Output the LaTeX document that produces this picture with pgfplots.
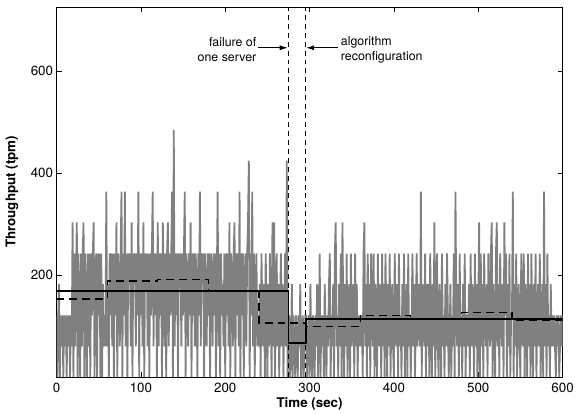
\documentclass[border=0pt]{standalone}
\usepackage{fontspec}
\setmainfont{TeX Gyre Heros}
\usepackage{pgfplots}
\pgfplotsset{compat=1.18}
\usetikzlibrary{arrows.meta}
\definecolor{noisegray}{RGB}{128,128,128}
\begin{document}
\begin{tikzpicture}
\begin{axis}[name=ax, scale only axis, width=510bp, height=373bp,
 xmin=0, xmax=600, ymin=0, ymax=725,
 xtick={0,100,...,600}, ytick={200,400,600},
 tick align=inside, major tick length=5bp,
 tick style={black, line width=0.5bp},
 axis line style={black, line width=0.8bp},
 /pgf/number format/assume math mode=true,
 ticklabel style={font=\fontsize{13.5}{16}\selectfont},
 xticklabel style={yshift=-2.5bp},
 label style={font=\fontsize{13.5}{16}\selectfont\bfseries},
 xlabel={Time (sec)}, ylabel={Throughput (tpm)},
 xlabel style={at={(axis description cs:0.5,-0.072)}, anchor=center},
 ylabel style={at={(axis description cs:-0.088,0.5)}, anchor=center},
]
\addplot[color=noisegray, line width=1.8bp, line join=bevel, line cap=butt, mark=none] coordinates {
(0,121)(1,0)(2,121)(3,182)(4,0)(5,121)(6,60)(7,121)(8,0)(9,121)
(10,60)(11,121)(12,0)(13,121)(14,60)(15,121)(16,0)(17,121)(18,60)(19,303)
(20,0)(21,242)(22,60)(23,182)(24,303)(25,0)(26,242)(27,121)(28,0)(29,242)
(30,60)(31,242)(32,303)(33,0)(34,242)(35,121)(36,0)(37,242)(38,60)(39,242)
(40,0)(41,242)(42,121)(43,242)(44,303)(45,0)(46,182)(47,242)(48,0)(49,242)
(50,121)(51,242)(52,0)(53,242)(54,0)(55,182)(56,60)(57,121)(58,60)(59,363)
(60,60)(61,182)(62,0)(63,242)(64,121)(65,242)(66,60)(67,242)(68,0)(69,242)
(70,121)(71,303)(72,0)(73,242)(74,182)(75,60)(76,242)(77,363)(78,0)(79,242)
(80,121)(81,363)(82,60)(83,242)(84,0)(85,242)(86,182)(87,242)(88,60)(89,303)
(90,0)(91,242)(92,182)(93,242)(94,60)(95,242)(96,121)(97,363)(98,0)(99,242)
(100,121)(101,242)(102,60)(103,303)(104,0)(105,242)(106,182)(107,242)(108,60)(109,242)
(110,0)(111,242)(112,121)(113,242)(114,363)(115,60)(116,242)(117,121)(118,242)(119,0)
(120,303)(121,60)(122,242)(123,121)(124,242)(125,0)(126,303)(127,182)(128,60)(129,242)
(130,0)(131,242)(132,303)(133,60)(134,242)(135,121)(136,242)(137,363)(138,0)(139,484)
(140,60)(141,242)(142,121)(143,242)(144,0)(145,242)(146,182)(147,242)(148,60)(149,242)
(150,121)(151,242)(152,363)(153,0)(154,242)(155,182)(156,60)(157,242)(158,121)(159,303)
(160,0)(161,242)(162,121)(163,242)(164,60)(165,242)(166,182)(167,0)(168,242)(169,121)
(170,363)(171,60)(172,242)(173,182)(174,242)(175,0)(176,242)(177,121)(178,60)(179,242)
(180,121)(181,242)(182,0)(183,242)(184,182)(185,60)(186,242)(187,121)(188,242)(189,0)
(190,182)(191,363)(192,60)(193,242)(194,0)(195,242)(196,121)(197,182)(198,60)(199,242)
(200,0)(201,242)(202,121)(203,242)(204,60)(205,303)(206,0)(207,242)(208,182)(209,60)
(210,242)(211,303)(212,0)(213,242)(214,121)(215,242)(216,60)(217,363)(218,0)(219,242)
(220,121)(221,242)(222,0)(223,182)(224,242)(225,60)(226,242)(227,303)(228,424)(229,0)
(230,242)(231,121)(232,363)(233,60)(234,242)(235,0)(236,182)(237,242)(238,60)(239,121)
(240,60)(241,182)(242,0)(243,242)(244,121)(245,60)(246,182)(247,0)(248,242)(249,121)
(250,0)(251,182)(252,60)(253,242)(254,121)(255,0)(256,303)(257,60)(258,303)(259,0)
(260,121)(261,242)(262,60)(263,182)(264,0)(265,121)(266,242)(267,60)(268,182)(269,0)
(270,121)(271,242)(272,60)(273,424)(274,0)(275,60)(276,121)(277,0)(278,60)(279,182)
(280,0)(281,121)(282,60)(283,0)(284,121)(285,60)(286,0)(287,121)(288,60)(289,182)
(290,0)(291,60)(292,121)(293,0)(294,60)(295,121)(296,121)(297,0)(298,60)(299,121)
(300,0)(301,182)(302,60)(303,0)(304,121)(305,60)(306,0)(307,121)(308,60)(309,182)
(310,0)(311,60)(312,242)(313,0)(314,121)(315,60)(316,121)(317,0)(318,182)(319,60)
(320,0)(321,121)(322,60)(323,182)(324,242)(325,0)(326,121)(327,60)(328,182)(329,0)
(330,242)(331,303)(332,60)(333,121)(334,0)(335,182)(336,60)(337,242)(338,0)(339,303)
(340,121)(341,0)(342,182)(343,60)(344,242)(345,0)(346,121)(347,182)(348,0)(349,242)
(350,60)(351,121)(352,182)(353,0)(354,242)(355,60)(356,182)(357,0)(358,121)(359,60)
(360,121)(361,60)(362,121)(363,0)(364,242)(365,303)(366,60)(367,182)(368,0)(369,242)
(370,60)(371,182)(372,0)(373,242)(374,121)(375,60)(376,242)(377,0)(378,182)(379,121)
(380,0)(381,242)(382,60)(383,182)(384,121)(385,0)(386,242)(387,60)(388,182)(389,0)
(390,242)(391,121)(392,0)(393,182)(394,60)(395,242)(396,0)(397,121)(398,182)(399,60)
(400,0)(401,242)(402,121)(403,60)(404,182)(405,0)(406,242)(407,60)(408,121)(409,0)
(410,182)(411,60)(412,242)(413,0)(414,121)(415,182)(416,0)(417,242)(418,60)(419,121)
(420,0)(421,121)(422,242)(423,60)(424,182)(425,0)(426,121)(427,242)(428,60)(429,182)
(430,121)(431,60)(432,363)(433,0)(434,182)(435,121)(436,60)(437,242)(438,0)(439,182)
(440,60)(441,182)(442,0)(443,242)(444,121)(445,0)(446,182)(447,60)(448,303)(449,0)
(450,121)(451,242)(452,60)(453,0)(454,182)(455,121)(456,0)(457,242)(458,60)(459,121)
(460,0)(461,182)(462,60)(463,242)(464,121)(465,0)(466,60)(467,182)(468,0)(469,121)
(470,60)(471,242)(472,0)(473,363)(474,121)(475,60)(476,182)(477,0)(478,242)(479,60)
(480,121)(481,0)(482,182)(483,60)(484,242)(485,0)(486,121)(487,121)(488,60)(489,182)
(490,0)(491,242)(492,60)(493,182)(494,121)(495,0)(496,242)(497,60)(498,182)(499,0)
(500,121)(501,303)(502,0)(503,242)(504,60)(505,182)(506,0)(507,242)(508,121)(509,60)
(510,182)(511,0)(512,242)(513,121)(514,60)(515,242)(516,303)(517,0)(518,182)(519,121)
(520,0)(521,242)(522,303)(523,60)(524,182)(525,0)(526,242)(527,121)(528,60)(529,182)
(530,0)(531,303)(532,121)(533,242)(534,0)(535,182)(536,60)(537,242)(538,0)(539,121)
(540,121)(541,363)(542,0)(543,182)(544,60)(545,242)(546,0)(547,121)(548,182)(549,60)
(550,0)(551,242)(552,121)(553,60)(554,242)(555,0)(556,182)(557,121)(558,0)(559,242)
(560,60)(561,182)(562,0)(563,242)(564,121)(565,0)(566,182)(567,60)(568,242)(569,0)
(570,121)(571,182)(572,60)(573,242)(574,0)(575,121)(576,182)(577,0)(578,363)(579,60)
(580,182)(581,0)(582,242)(583,60)(584,121)(585,0)(586,182)(587,60)(588,121)(589,60)
(590,121)(591,60)(592,0)(593,121)(594,60)(595,121)(596,0)(597,60)(598,121)(599,60)(600,121)
};
% vertical event markers
\addplot[black, line width=0.8bp, dash pattern=on 5bp off 4bp] coordinates {(275,0) (275,725)};
\addplot[black, line width=0.8bp, dash pattern=on 5bp off 4bp] coordinates {(295,0) (295,725)};
% 60 s window estimate (dashed step)
\addplot[black, line width=1.3bp, dash pattern=on 8bp off 5bp, const plot] coordinates {
(0,153) (60,188) (120,191) (180,170) (240,106) (295,99) (360,121) (420,115) (480,127) (540,111) (600,111)};
% configured throughput (solid step)
\addplot[black, line width=1.8bp, const plot] coordinates {
(0,168) (275,66) (296,113) (600,113)};
\node[align=right, anchor=east, inner sep=0pt, font=\fontsize{12.5}{15}\selectfont] at (axis cs:237,641) {failure of\\one server};
\node[align=left, anchor=west, inner sep=0pt, font=\fontsize{12.5}{15}\selectfont] at (axis cs:337,641) {algorithm\\reconfiguration};
\draw[-{Latex[length=8bp,width=5bp]}, line width=0.7bp] (axis cs:239,645) -- (axis cs:274,645);
\draw[-{Latex[length=8bp,width=5bp]}, line width=0.7bp] (axis cs:334,645) -- (axis cs:296,645);
\end{axis}
\path ([shift={(-57bp,-36bp)}]ax.south west) rectangle ([shift={(10bp,7bp)}]ax.north east);
\end{tikzpicture}
\end{document}
